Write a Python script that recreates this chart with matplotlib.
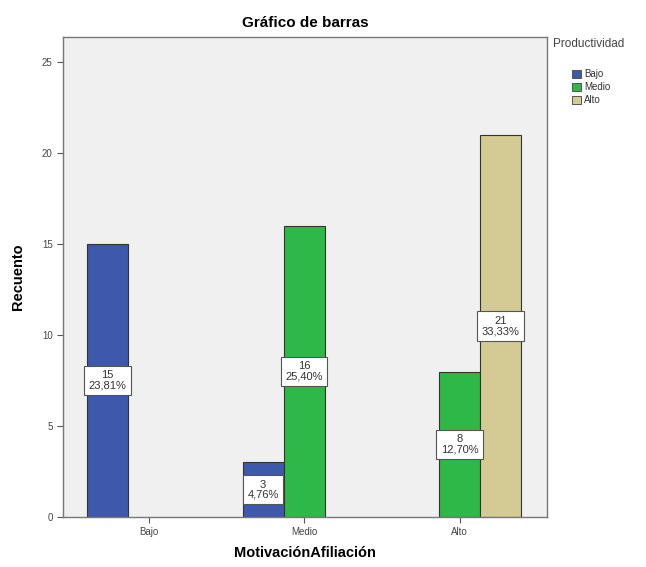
import matplotlib
matplotlib.use("Agg")
import matplotlib.pyplot as plt
from matplotlib.patches import Patch

plt.rcParams['font.family'] = ['Liberation Sans', 'DejaVu Sans']

categories = ["Bajo", "Medio", "Alto"]
series_names = ["Bajo", "Medio", "Alto"]
# counts per MotivaciónAfiliación category, one list per Productividad level
counts = {
    "Bajo": [15, 3, 0],
    "Medio": [0, 16, 8],
    "Alto": [0, 0, 21],
}
total = 63
colors = {"Bajo": "#3E58AC", "Medio": "#2EB848", "Alto": "#D3CB93"}
yticks = [0, 5, 10, 15, 20, 25]

fig = plt.figure(figsize=(6.46, 5.67), dpi=100)
ax = fig.add_axes([0.0975, 0.0882, 0.749, 0.8465])
ax.set_facecolor("#F0F0F0")

width = 0.264
offsets = [-width, 0.0, width]
for k, name in enumerate(series_names):
    for i, v in enumerate(counts[name]):
        if v == 0:
            continue
        x = i + offsets[k]
        ax.bar(x, v, width=width, color=colors[name], edgecolor="#333333",
               linewidth=0.8, zorder=2)
        pct = f"{v / total * 100:.2f}".replace(".", ",") + "%"
        ax.text(x, v / 2, f"{v}\n{pct}", ha="center", va="center",
                fontsize=8, color="#333333", linespacing=1.05, zorder=3,
                bbox=dict(boxstyle="square,pad=0.4", fc="white",
                          ec="#555555", lw=0.8))

ax.set_xlim(-0.55, 2.56)
ax.set_ylim(0, 26.4)
ax.set_xticks(range(len(categories)))
ax.set_xticklabels(categories)
ax.set_yticks(yticks)
ax.tick_params(axis="both", labelsize=7, labelcolor="#444444", color="#555555",
               length=4, width=0.8, direction="out")
for s in ax.spines.values():
    s.set_color("#777777")
    s.set_linewidth(1.0)

ax.set_title("Gráfico de barras", fontsize=11, fontweight="bold", pad=7)
ax.set_xlabel("MotivaciónAfiliación", fontsize=10.5, fontweight="bold", labelpad=6)
ax.set_ylabel("Recuento", fontsize=10.5, fontweight="bold", labelpad=12)

fig.text(0.856, 0.922, "Productividad", fontsize=8.5, color="#444444",
         ha="left", va="center")
handles = [Patch(facecolor=colors[n], edgecolor="#555555", linewidth=0.7)
           for n in series_names]
leg = fig.legend(handles, series_names,
                 loc="upper left", bbox_to_anchor=(0.886, 0.878),
                 frameon=False, fontsize=7,
                 handlelength=0.9, handleheight=0.9, handletextpad=0.3,
                 labelspacing=0.3, borderpad=0.0, borderaxespad=0.0)
for t in leg.get_texts():
    t.set_color("#333333")

fig.savefig("out.png", dpi=100)
